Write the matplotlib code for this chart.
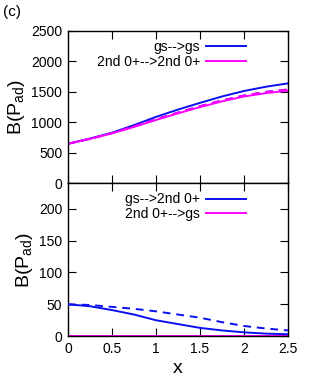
import matplotlib
matplotlib.use("Agg")
import matplotlib.pyplot as plt

plt.rcParams['font.family'] = ['Liberation Sans', 'DejaVu Sans']
plt.rcParams['mathtext.fontset'] = 'custom'
plt.rcParams['mathtext.rm'] = 'Liberation Sans'
plt.rcParams['mathtext.it'] = 'Liberation Sans'

x = [0.0, 0.25, 0.5, 0.75, 1.0, 1.25, 1.5, 1.75, 2.0, 2.25, 2.5]

# top panel
gs_gs = [650, 735, 830, 955, 1090, 1210, 1320, 1425, 1515, 1585, 1640]
gs_gs_dash = [650, 730, 825, 935, 1050, 1160, 1265, 1360, 1440, 1500, 1540]
s2_s2 = [650, 728, 820, 925, 1040, 1148, 1250, 1345, 1425, 1480, 1520]
s2_s2_dash = [650, 730, 825, 935, 1050, 1160, 1265, 1360, 1440, 1500, 1540]

# bottom panel
gs_s2 = [50, 47, 41, 34, 25, 19, 13, 9, 6, 4, 3]
gs_s2_dash = [50, 49, 46, 43, 39, 34, 29, 22, 16, 12, 9]
s2_gs = [0.3, 0.3, 0.3, 0.3, 0.3, 0.3, 0.3, 0.3, 0.3, 0.3, 0.3]
s2_gs_dash = [0.3, 0.3, 0.3, 0.3, 0.3, 0.3, 0.3, 0.3, 0.3, 0.3, 0.3]

blue = '#0a10f0'
mag = '#ff00ff'

fig = plt.figure(figsize=(3.13, 3.82), dpi=100)
ax1 = fig.add_axes([0.217, 0.520, 0.703, 0.399])
ax2 = fig.add_axes([0.217, 0.120, 0.703, 0.400])

lw = 1.4
ax1.plot(x, gs_gs_dash, color=blue, lw=lw, ls=(0, (4, 3)))
ax1.plot(x, gs_gs, color=blue, lw=lw, label='gs-->gs')
ax1.plot(x, s2_s2, color=mag, lw=lw, label='2nd 0+-->2nd 0+')
ax1.plot(x, s2_s2_dash, color=mag, lw=lw, ls=(0, (4, 3)))
ax1.set_ylim(0, 2500)
ax1.set_yticks([0, 500, 1000, 1500, 2000, 2500])
ax1.set_xlim(0, 2.5)
ax1.set_xticks([0, 0.5, 1, 1.5, 2, 2.5])
ax1.set_xticklabels([])

ax2.plot(x, s2_gs, color=mag, lw=lw, label='2nd 0+-->gs', zorder=2)
ax2.plot(x, s2_gs_dash, color=mag, lw=lw, ls=(0, (4, 3)), zorder=2)
ax2.plot(x, gs_s2, color=blue, lw=lw, label='gs-->2nd 0+', zorder=3)
ax2.plot(x, gs_s2_dash, color=blue, lw=lw, ls=(0, (4, 3)), zorder=3)
ax2.set_ylim(0, 240)
ax2.set_yticks([0, 50, 100, 150, 200])
ax2.set_xlim(0, 2.5)
ax2.set_xticks([0, 0.5, 1, 1.5, 2, 2.5])
ax2.set_xticklabels(['0', '0.5', '1', '1.5', '2', '2.5'])

for ax in (ax1, ax2):
    ax.tick_params(direction='in', top=True, right=True, labelsize=10, length=5.5, width=0.8, pad=4)
    for s in ax.spines.values():
        s.set_linewidth(1.0)
    ax.set_ylabel(r'B(P$_{\mathrm{ad}}$)', fontsize=14, labelpad=3)

h1, l1 = ax1.get_legend_handles_labels()
ax1.legend(h1, l1, loc='upper right', frameon=False, fontsize=10, markerfirst=False,
           handlelength=2.9, handletextpad=0.4, labelspacing=0.05,
           bbox_to_anchor=(0.85, 1.0), borderaxespad=0.25)
h2, l2 = ax2.get_legend_handles_labels()
order = [1, 0]
ax2.legend([h2[i] for i in order], [l2[i] for i in order], loc='upper right', frameon=False,
           fontsize=10, markerfirst=False, handlelength=2.9, handletextpad=0.4,
           labelspacing=0.05, bbox_to_anchor=(0.85, 1.0), borderaxespad=0.25)

ax2.set_xlabel('x', fontsize=14, labelpad=3)
fig.text(0.008, 0.968, '(c)', fontsize=11, ha='left', va='center')

fig.savefig('out.png', dpi=100)
